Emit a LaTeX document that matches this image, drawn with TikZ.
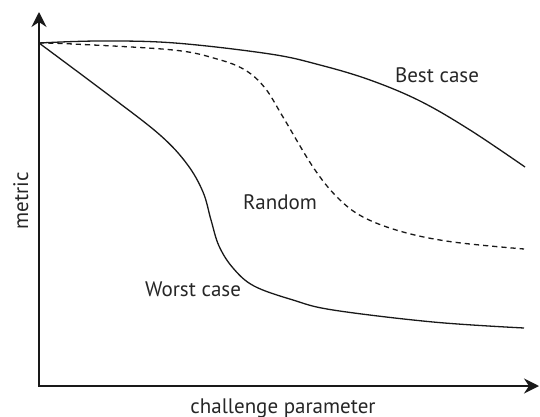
\documentclass[tikz,border=0pt]{standalone}
\usepackage{fontspec}
\setmainfont{PT Sans}
\usetikzlibrary{arrows.meta}
\begin{document}
\begin{tikzpicture}[x=0.5pt,y=-0.5pt,
  axis/.style={line width=1pt,draw=black!90},
  curve/.style={line width=0.65pt,draw=black!90},
  rnd/.style={curve,dash pattern=on 2.6pt off 2pt},
  lbl/.style={font=\fontsize{10.5}{12}\selectfont,text=black!85,anchor=base,inner sep=0pt}]
\useasboundingbox (0,0) rectangle (540,417);
\coordinate (O) at (39,386);
\coordinate (ytop) at (39,12);
\coordinate (xend) at (539,386);
\draw[axis,{Stealth[length=7.5pt,width=7.5pt,inset=2.5pt]}-{Stealth[length=7.5pt,width=7.5pt,inset=2.5pt]}] (ytop) -- (O) -- (xend);
% best case
\draw[curve] plot[smooth,tension=0.6] coordinates {(39,43) (100,41) (175,43) (270,54) (320,65) (370,80) (420,101) (470,130) (525,167)};
% random
\draw[rnd] plot[smooth,tension=0.6] coordinates {(39,43) (73,44) (173,50) (217,59) (245,70) (265,88) (283,117) (313,167) (337,197) (363,217) (403,232) (453,242) (524,249)};
% worst case
\draw[curve] plot[smooth,tension=0.6] coordinates {(39,43) (110,96) (160,135) (187,164) (203,192) (211,220) (219,246) (233,268) (254,286) (293,300) (333,310) (433,322) (524,328)};
\node[lbl] (best) at (437,83) {Best case};
\node[lbl] (random) at (280,209) {Random};
\node[lbl] (worst) at (193,296) {Worst case};
\node[lbl,rotate=90] (metric) at (28,201) {metric};
\node[lbl] (xlabel) at (283,413) {challenge parameter};
\end{tikzpicture}
\end{document}
